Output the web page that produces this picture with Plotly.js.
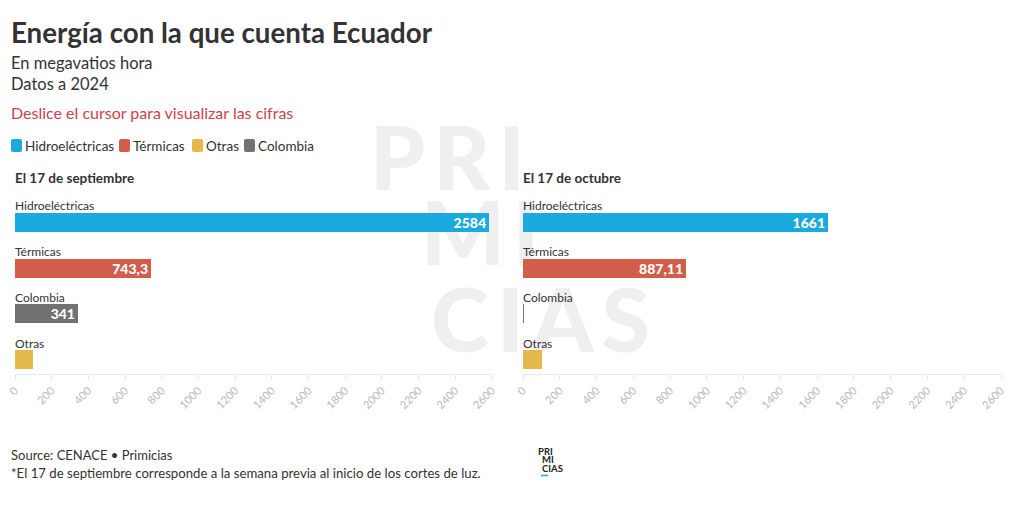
<!DOCTYPE html>
<html>
<head>
<meta charset="utf-8">
<script src="https://cdn.plot.ly/plotly-3.0.1.min.js"></script>
<style>
  html, body { margin: 0; padding: 0; background: #ffffff; }
  #wrap { position: relative; width: 1020px; height: 512px; }
  #wm { position: absolute; left: 0; top: 0; width: 1020px; height: 512px; z-index: 0;
        font-family: Lato, sans-serif; font-weight: 900; color: #efefef; pointer-events: none; }
  #wm div { position: absolute; font-size: 88px; line-height: 88px; letter-spacing: 8px; }
  #chart { position: absolute; left: 0; top: 0; z-index: 1; }
</style>
</head>
<body>
<div id="wrap">
  <div id="wm">
    <div style="left:370px; top:112px;">PRI</div>
    <div style="left:421px; top:187px;">MI</div>
    <div style="left:431px; top:274px;">CIAS</div>
  </div>
  <div id="chart"></div>
</div>
<script>
// ---- data ----
var categories = ["Hidroeléctricas", "Térmicas", "Colombia", "Otras"];
var sepValues = [2584, 743.3, 341, 100];
var octValues = [1661, 887.11, 5, 105];
var legendOrder = ["Hidroeléctricas", "Térmicas", "Otras", "Colombia"];
var panelTitles = ["El 17 de septiembre", "El 17 de octubre"];
var tickVals = [0, 200, 400, 600, 800, 1000, 1200, 1400, 1600, 1800, 2000, 2200, 2400, 2600];

// ---- styles ----
var colorOf = {
  "Hidroeléctricas": "#1aaadf",
  "Térmicas": "#d35d4b",
  "Otras": "#e5b84b",
  "Colombia": "#717171"
};
var FONT = "Lato, 'Source Sans Pro', sans-serif";

function fmt(v) { return v >= 200 ? String(v).replace('.', ',') : ''; }

function barTrace(values, xa, ya) {
  return {
    type: 'bar', orientation: 'h',
    y: categories, x: values,
    xaxis: xa, yaxis: ya,
    width: 0.416,
    marker: { color: categories.map(function (c) { return colorOf[c]; }), line: { width: 0 } },
    text: values.map(fmt),
    textposition: 'inside', insidetextanchor: 'end', constraintext: 'none',
    textfont: { family: FONT, size: 14, color: '#ffffff', weight: 900 },
    hoverinfo: 'x+y', showlegend: false
  };
}

var data = [barTrace(sepValues, 'x', 'y'), barTrace(octValues, 'x2', 'y2')];

var yDom = [(512 - 374) / 512, (512 - 190) / 512];
var yRange = [3.317, -0.709];

function xAxis(dom, anchor) {
  return {
    domain: dom, range: [0, 2600], anchor: anchor,
    tickvals: tickVals, ticktext: tickVals.map(String),
    tickangle: -45, tickfont: { family: FONT, size: 11, color: '#b8b8b8' },
    ticks: 'outside', ticklen: 5, tickcolor: '#e6e6e6', tickwidth: 1,
    showline: true, linecolor: '#e8e8e8', linewidth: 1,
    showgrid: false, zeroline: false, fixedrange: true
  };
}
function yAxis(anchor) {
  return {
    domain: yDom, range: yRange, type: 'category', anchor: anchor,
    showticklabels: false, ticks: '', showgrid: false, zeroline: false, showline: false,
    fixedrange: true
  };
}

var annotations = [];
var shapes = [];

function paperY(px) { return (512 - px) / 512; }
function paperX(px) { return px / 1020; }

// Titles
annotations.push({ xref: 'paper', yref: 'paper', x: paperX(9), y: paperY(32), xanchor: 'left', yanchor: 'middle',
  text: '<b>Energía con la que cuenta Ecuador</b>', showarrow: false,
  font: { family: FONT, size: 27.7, color: '#333333', weight: 900 } });
annotations.push({ xref: 'paper', yref: 'paper', x: paperX(9), y: paperY(63), xanchor: 'left', yanchor: 'middle',
  text: 'En megavatios hora', showarrow: false, font: { family: FONT, size: 16.5, color: '#333333' } });
annotations.push({ xref: 'paper', yref: 'paper', x: paperX(9), y: paperY(84), xanchor: 'left', yanchor: 'middle',
  text: 'Datos a 2024', showarrow: false, font: { family: FONT, size: 16.5, color: '#333333' } });
annotations.push({ xref: 'paper', yref: 'paper', x: paperX(9), y: paperY(112), xanchor: 'left', yanchor: 'middle',
  text: 'Deslice el cursor para visualizar las cifras', showarrow: false,
  font: { family: FONT, size: 16, color: '#c9434e' } });

// Legend (manual)
var legX = [11, 119, 192, 244];
legendOrder.forEach(function (name, i) {
  var x0 = legX[i];
  shapes.push({
    type: 'path', xref: 'paper', yref: 'paper', xsizemode: 'pixel', ysizemode: 'pixel',
    xanchor: paperX(x0), yanchor: paperY(152),
    path: 'M2,0 L9,0 Q11,0 11,2 L11,11 Q11,13 9,13 L2,13 Q0,13 0,11 L0,2 Q0,0 2,0 Z',
    fillcolor: colorOf[name], line: { width: 0 }
  });
  annotations.push({ xref: 'paper', yref: 'paper', x: paperX(x0 + 12), y: paperY(145.5), xanchor: 'left', yanchor: 'middle',
    text: name, showarrow: false, font: { family: FONT, size: 13.5, color: '#333333' } });
});

// Panel titles
var panelX = [15, 523];
panelTitles.forEach(function (t, i) {
  annotations.push({ xref: 'paper', yref: 'paper', x: paperX(panelX[i] - 2), y: paperY(178), xanchor: 'left', yanchor: 'middle',
    text: '<b>' + t + '</b>', showarrow: false, font: { family: FONT, size: 13.5, color: '#333333' } });
});

// Category labels above bars
[['x', 'y'], ['x2', 'y2']].forEach(function (ax) {
  categories.forEach(function (c) {
    annotations.push({ xref: ax[0], yref: ax[1], x: 0, y: c, xanchor: 'left', yanchor: 'bottom',
      xshift: -2, yshift: 7,
      text: c, showarrow: false, font: { family: FONT, size: 12, color: '#333333' } });
  });
});

// Footer
annotations.push({ xref: 'paper', yref: 'paper', x: paperX(9), y: paperY(455), xanchor: 'left', yanchor: 'middle',
  text: 'Source: CENACE • Primicias', showarrow: false, font: { family: FONT, size: 13, color: '#333333' } });
annotations.push({ xref: 'paper', yref: 'paper', x: paperX(9), y: paperY(473), xanchor: 'left', yanchor: 'middle',
  text: '*El 17 de septiembre corresponde a la semana previa al inicio de los cortes de luz.', showarrow: false,
  font: { family: FONT, size: 13.2, color: '#333333' } });

// Small logo
var logoLines = [['PRI', 536, 451], ['MI', 540, 459.5], ['CIAS', 540, 468]];
logoLines.forEach(function (l) {
  annotations.push({ xref: 'paper', yref: 'paper', x: paperX(l[1]), y: paperY(l[2]), xanchor: 'left', yanchor: 'middle',
    text: '<b>' + l[0] + '</b>', showarrow: false, font: { family: FONT, size: 9.5, color: '#222222' } });
});
shapes.push({ type: 'line', xref: 'paper', yref: 'paper', x0: paperX(541), x1: paperX(548), y0: paperY(475.5), y1: paperY(475.5),
  line: { color: '#1aaadf', width: 1.5 } });

var layout = {
  width: 1020, height: 512,
  margin: { l: 0, r: 0, t: 0, b: 0 },
  paper_bgcolor: 'rgba(0,0,0,0)', plot_bgcolor: 'rgba(0,0,0,0)',
  font: { family: FONT, color: '#333333' },
  barmode: 'overlay', showlegend: false, bargap: 0,
  xaxis: xAxis([paperX(15), paperX(492)], 'y'),
  yaxis: yAxis('x'),
  xaxis2: xAxis([paperX(523), paperX(1001)], 'y2'),
  yaxis2: yAxis('x2'),
  annotations: annotations,
  shapes: shapes
};

Plotly.newPlot('chart', data, layout, { displayModeBar: false, staticPlot: false });
</script>
</body>
</html>
